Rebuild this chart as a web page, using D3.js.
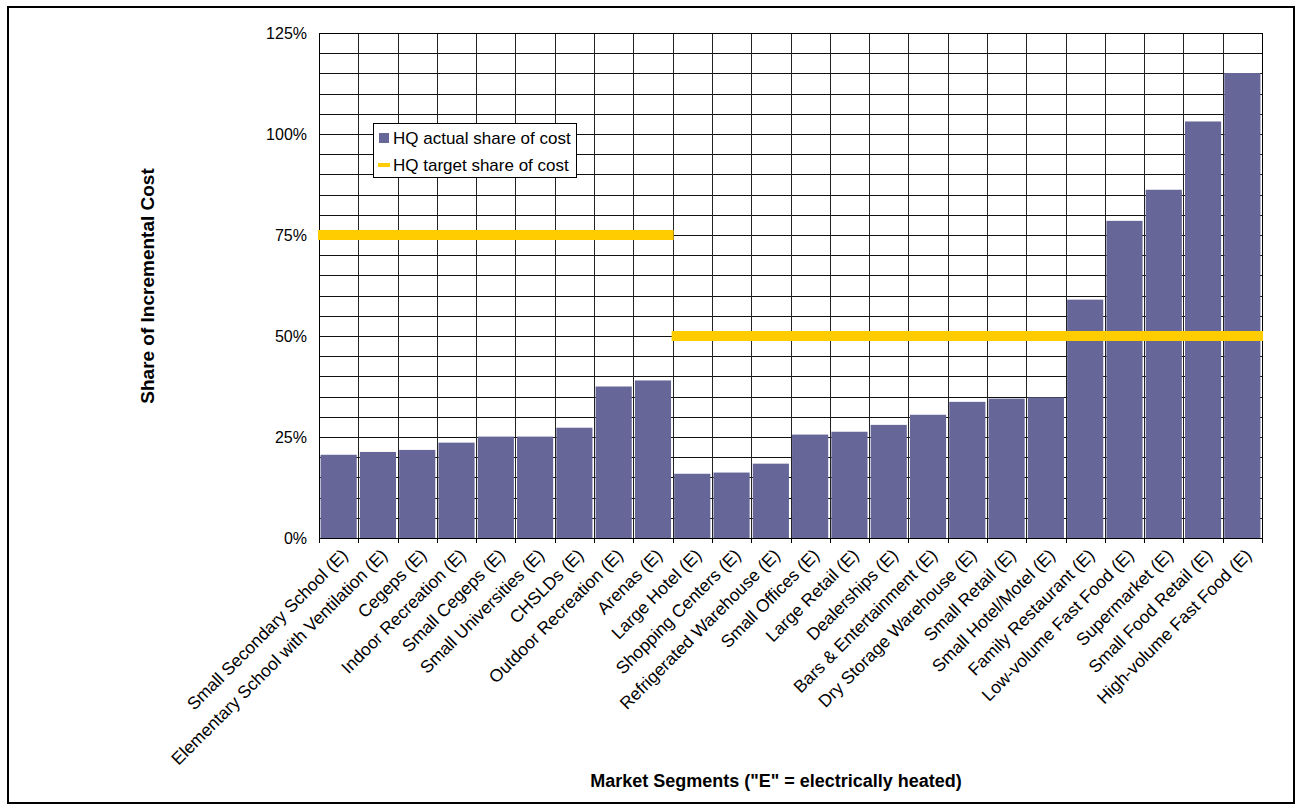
<!DOCTYPE html>
<html><head><meta charset="utf-8">
<script src="https://cdn.jsdelivr.net/npm/d3@7"></script>
<style>body{margin:0;background:#fff}svg{display:block;font-family:Arial,"Liberation Sans",sans-serif}</style>
</head><body><svg id="c" width="1302" height="812"></svg>
<script>
const categories = ["Small Secondary School (E)","Elementary School with Ventilation (E)","Cegeps (E)","Indoor Recreation (E)","Small Cegeps (E)","Small Universities (E)","CHSLDs (E)","Outdoor Recreation (E)","Arenas (E)","Large Hotel (E)","Shopping Centers (E)","Refrigerated Warehouse (E)","Small Offices (E)","Large Retail (E)","Dealerships (E)","Bars & Entertainment (E)","Dry Storage Warehouse (E)","Small Retail (E)","Small Hotel/Motel (E)","Family Restaurant (E)","Low-volume Fast Food (E)","Supermarket (E)","Small Food Retail (E)","High-volume Fast Food (E)"];
const actualShare = [0.206,0.213,0.218,0.236,0.251,0.251,0.273,0.375,0.390,0.159,0.162,0.184,0.256,0.263,0.280,0.305,0.337,0.345,0.348,0.590,0.785,0.862,1.031,1.151];
const targetShare = [0.75,0.75,0.75,0.75,0.75,0.75,0.75,0.75,0.75,0.5,0.5,0.5,0.5,0.5,0.5,0.5,0.5,0.5,0.5,0.5,0.5,0.5,0.5,0.5];
const yTicks = [0,0.25,0.5,0.75,1.0,1.25];
const seriesNames = ["HQ actual share of cost","HQ target share of cost"];
const xTitle = 'Market Segments ("E" = electrically heated)';
const yTitle = "Share of Incremental Cost";

const svg = d3.select("#c");
const L=319,R=1262,T=33,B=538;
const barColor="#666699", lineColor="#FFCC00";
const x = d3.scaleBand().domain(categories).range([L,R]).paddingInner(0.08).paddingOuter(0.04);
const y = d3.scaleLinear().domain([0,1.25]).range([B,T]);
const step = x.step();

// outer frame
svg.append("rect").attr("x",8).attr("y",7).attr("width",1286).attr("height",796).attr("fill","none").attr("stroke","#000").attr("stroke-width",2);

// gridlines
const g = svg.append("g");
g.selectAll("line.h").data(d3.range(0,1.2501,0.05)).join("line")
 .attr("x1",L).attr("x2",R).attr("y1",d=>Math.round(y(d))+0.5).attr("y2",d=>Math.round(y(d))+0.5)
 .attr("stroke","#111").attr("stroke-width",1);
g.selectAll("line.v").data(d3.range(0,categories.length+1)).join("line")
 .attr("x1",i=>Math.round(L+i*step)+0.5).attr("x2",i=>Math.round(L+i*step)+0.5).attr("y1",T).attr("y2",B)
 .attr("stroke","#222").attr("stroke-width",1);

// bars
svg.append("g").selectAll("rect").data(actualShare).join("rect")
 .attr("x",(d,i)=>x(categories[i])).attr("width",x.bandwidth())
 .attr("y",d=>y(d)).attr("height",d=>B-y(d)).attr("fill",barColor);

// plot border
svg.append("rect").attr("x",L+0.5).attr("y",T+0.5).attr("width",R-L).attr("height",B-T).attr("fill","none").attr("stroke","#000").attr("stroke-width",1);

// x axis ticks
svg.append("g").selectAll("line").data(d3.range(0,categories.length+1)).join("line")
 .attr("x1",i=>Math.round(L+i*step)+0.5).attr("x2",i=>Math.round(L+i*step)+0.5).attr("y1",B).attr("y2",B+5)
 .attr("stroke","#000");
svg.append("line").attr("x1",L).attr("x2",R+1).attr("y1",B+0.5).attr("y2",B+0.5).attr("stroke","#000");

// target line segments
const segs=[];
targetShare.forEach((v,i)=>{
  if(segs.length && segs[segs.length-1].v===v) segs[segs.length-1].e=i;
  else segs.push({v:v,s:i,e:i});
});
svg.append("g").selectAll("line").data(segs).join("line")
 .attr("x1",d=>L+d.s*step-1).attr("x2",d=>L+(d.e+1)*step+1)
 .attr("y1",d=>y(d.v)).attr("y2",d=>y(d.v))
 .attr("stroke",lineColor).attr("stroke-width",10);

// y tick labels
svg.append("g").selectAll("text").data(yTicks).join("text")
 .attr("x",307).attr("y",d=>y(d)).attr("dy","0.35em").attr("text-anchor","end")
 .attr("font-size",16).text(d=>Math.round(d*100)+"%");

// x tick labels
svg.append("g").selectAll("text").data(categories).join("text")
 .attr("transform",d=>`translate(${x(d)+x.bandwidth()/2+6},${B+14}) rotate(-45)`)
 .attr("text-anchor","end").attr("dy","0.35em").attr("font-size",17.5).text(d=>d);

// axis titles
svg.append("text").attr("x",776).attr("y",787).attr("text-anchor","middle").attr("font-weight","bold").attr("font-size",18).text(xTitle);
svg.append("text").attr("transform","translate(154,286) rotate(-90)").attr("text-anchor","middle").attr("font-weight","bold").attr("font-size",19).text(yTitle);

// legend
const lg = svg.append("g");
lg.append("rect").attr("x",373.5).attr("y",123.5).attr("width",203).attr("height",54).attr("fill","#fff").attr("stroke","#000");
lg.append("rect").attr("x",379).attr("y",133).attr("width",10).attr("height",10).attr("fill",barColor);
lg.append("line").attr("x1",378).attr("x2",390).attr("y1",165).attr("y2",165).attr("stroke",lineColor).attr("stroke-width",4);
lg.selectAll("text").data(seriesNames).join("text").attr("x",393).attr("y",(d,i)=>i?165:138).attr("dy","0.35em").attr("font-size",17).text(d=>d);
</script></body></html>
